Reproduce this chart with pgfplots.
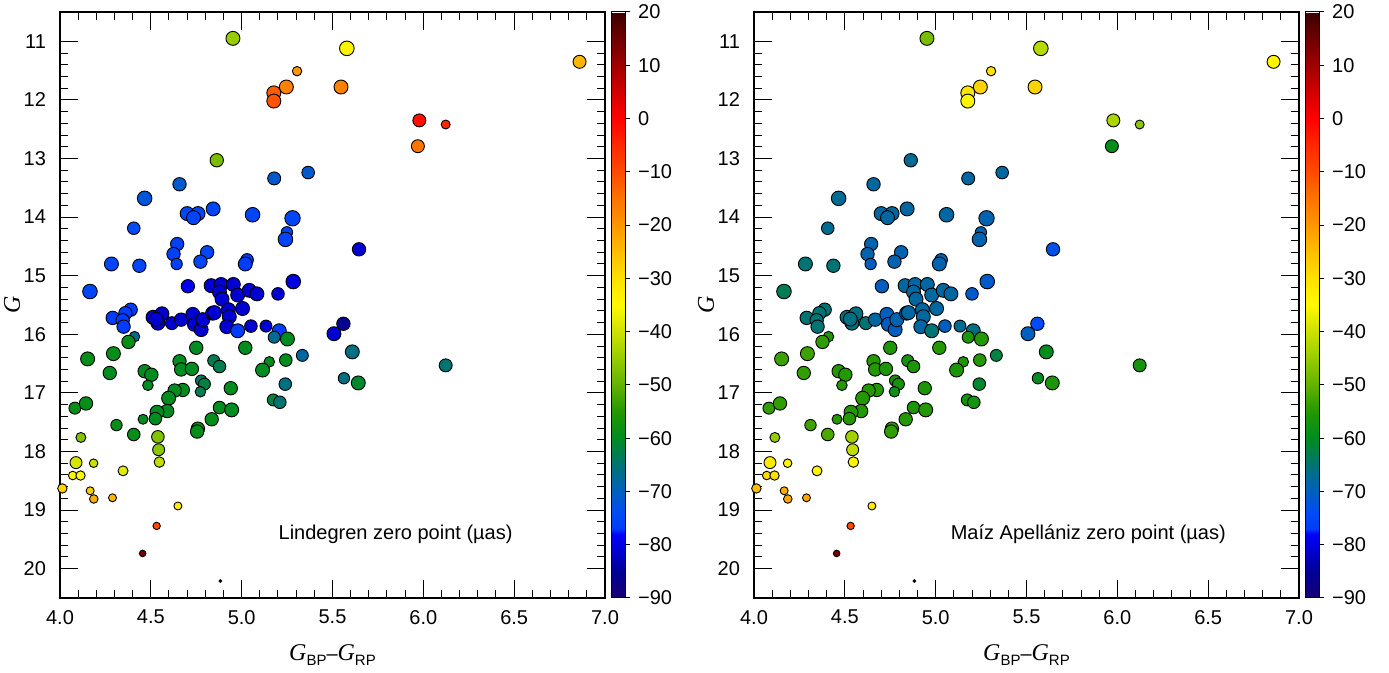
\documentclass[border=0pt]{standalone}
\usepackage{pgfplots}
\pgfplotsset{compat=1.18}
\usepackage{pgfplotstable}
\usepackage{fontspec}
\setmainfont{Liberation Sans}
\newfontfamily\seriffont{Liberation Serif}

\pgfplotstableread{
x y L R s
4.952 10.95 -45 -48 7.0
5.579 11.12 -34 -42 7.3
6.860 11.35 -24 -34 6.5
5.305 11.51 -20 -30 4.7
5.246 11.78 -17 -28 7.0
5.177 11.88 -12 -31 7.0
5.177 12.02 -11 -34 7.0
5.547 11.78 -17 -28 7.0
5.978 12.35 -2 -43 6.5
6.123 12.42 -5 -46 4.5
5.970 12.79 -15 -59 6.5
4.863 13.03 -48 -67 6.7
5.179 13.34 -71 -68 6.5
5.366 13.24 -71 -68 6.3
4.658 13.44 -71 -68 6.7
4.466 13.68 -72 -67 7.3
4.843 13.86 -75 -68 7.0
4.700 13.94 -75 -68 7.0
4.760 13.94 -75 -68 7.0
4.735 14.01 -75 -68 7.0
5.060 13.96 -75 -68 7.3
5.280 14.02 -75 -69 7.7
4.406 14.19 -74 -67 6.3
5.249 14.26 -75 -69 5.7
5.241 14.38 -75 -69 7.3
4.645 14.46 -76 -69 6.7
4.625 14.63 -76 -69 6.7
4.642 14.80 -76 -70 5.7
4.810 14.60 -75 -69 6.7
4.773 14.76 -75 -69 6.7
4.283 14.80 -75 -65 7.0
4.437 14.83 -75 -65 6.7
5.646 14.55 -81 -73 6.7
5.030 14.73 -77 -69 6.3
5.020 14.80 -77 -69 7.0
4.165 15.27 -75 -63 7.3
4.704 15.18 -79 -70 6.7
5.284 15.10 -80 -71 7.3
5.200 15.31 -81 -71 6.3
4.389 15.58 -77 -65 6.7
4.360 15.64 -77 -65 6.7
4.290 15.72 -77 -65 6.7
4.345 15.76 -77 -65 6.7
4.350 15.87 -77 -65 6.7
4.512 15.71 -81 -66 7.0
4.561 15.65 -81 -66 7.0
4.539 15.81 -81 -66 7.0
4.530 15.74 -81 -66 7.0
4.616 15.81 -81 -65 6.5
4.667 15.75 -81 -68 6.7
4.731 15.66 -81 -70 7.0
4.740 15.83 -81 -70 7.0
4.777 15.92 -81 -70 7.0
4.786 15.75 -81 -69 7.0
4.840 15.64 -81 -70 7.0
4.832 15.17 -81 -68 7.0
4.887 15.15 -81 -68 7.0
4.878 15.28 -81 -68 7.0
4.954 15.15 -81 -68 7.0
4.978 15.33 -81 -68 7.0
5.042 15.25 -81 -68 7.0
5.084 15.31 -81 -68 7.0
4.892 15.40 -81 -68 7.0
4.850 15.63 -81 -68 7.0
4.927 15.58 -81 -68 7.0
4.932 15.70 -81 -68 7.0
5.005 15.56 -81 -68 7.0
4.918 15.87 -81 -68 7.0
4.978 15.94 -77 -65 7.0
5.051 15.86 -81 -70 6.3
5.134 15.86 -81 -67 6.0
5.207 15.94 -77 -66 7.0
5.560 15.82 -86 -74 6.7
5.508 15.99 -81 -70 7.0
4.410 16.04 -67 -56 5.3
4.377 16.13 -59 -54 6.7
5.179 16.05 -67 -56 6.0
5.252 16.08 -60 -55 7.0
5.020 16.23 -60 -55 6.7
4.750 16.23 -60 -56 6.7
5.609 16.30 -66 -60 7.0
5.334 16.36 -68 -62 6.0
4.152 16.42 -59 -53 7.0
4.294 16.33 -59 -53 7.0
4.658 16.46 -60 -55 6.7
4.667 16.60 -60 -55 6.7
4.726 16.59 -60 -56 6.7
4.846 16.45 -63 -57 6.0
4.878 16.55 -63 -56 6.3
5.152 16.47 -60 -56 5.3
5.243 16.44 -60 -55 6.3
5.115 16.61 -60 -56 7.0
4.274 16.66 -60 -54 6.7
4.466 16.63 -60 -55 6.7
4.503 16.69 -60 -55 6.7
4.484 16.87 -60 -55 5.3
4.777 16.79 -64 -57 5.7
4.795 16.85 -62 -57 6.0
4.773 16.98 -63 -58 5.3
4.676 16.95 -60 -55 6.7
4.631 16.96 -60 -55 6.7
4.940 16.92 -60 -56 6.7
5.240 16.85 -66 -61 6.3
5.563 16.75 -66 -60 5.7
5.642 16.83 -61 -56 7.0
6.123 16.53 -65 -57 6.5
4.598 17.09 -60 -55 7.0
4.590 17.31 -60 -55 6.7
4.534 17.33 -60 -55 7.0
4.525 17.44 -60 -55 6.3
4.457 17.45 -60 -55 5.0
5.174 17.12 -62 -57 6.0
5.210 17.16 -65 -57 6.3
4.082 17.26 -59 -54 6.0
4.143 17.18 -59 -54 6.7
4.311 17.55 -59 -53 5.7
4.406 17.71 -59 -52 6.3
4.759 17.61 -59 -54 6.7
4.755 17.66 -59 -54 6.7
4.835 17.45 -59 -55 6.7
4.878 17.25 -60 -56 6.3
4.945 17.29 -60 -55 7.0
4.115 17.76 -47 -45 5.0
4.539 17.75 -47 -44 6.3
4.543 17.97 -46 -41 6.0
4.547 18.18 -41 -34 5.3
4.088 18.19 -39 -32 6.0
4.185 18.20 -40 -34 4.3
4.347 18.33 -38 -34 5.0
4.070 18.41 -35 -29 4.3
4.113 18.41 -35 -30 4.7
4.013 18.63 -28 -25 4.7
4.166 18.67 -27 -23 4.0
4.186 18.81 -23 -22 4.3
4.289 18.79 -24 -22 4.0
4.649 18.93 -33 -32 4.0
4.532 19.27 -10 -10 3.7
4.455 19.74 14 14 3.3
4.883 20.21 14 14 1.3
}\stars

\newcommand{\gsub}[1]{{\fontsize{12}{14}\seriffont\itshape G}\raisebox{-0.45ex}{\fontsize{7.5}{9}\selectfont #1}}

\pgfplotsset{
  colormap={zp}{[1pt]
    rgb255(0pt)=(25,0,115) rgb255(5pt)=(0,0,150) rgb255(10pt)=(0,0,225)
    rgb255(12pt)=(0,0,250) rgb255(13pt)=(0,60,250) rgb255(16pt)=(0,75,245)
    rgb255(20pt)=(0,95,190) rgb255(25pt)=(0,115,115) rgb255(30pt)=(0,140,30)
    rgb255(35pt)=(35,152,0) rgb255(40pt)=(100,178,0) rgb255(45pt)=(150,205,0)
    rgb255(50pt)=(205,225,0) rgb255(55pt)=(255,250,0) rgb255(60pt)=(255,225,0)
    rgb255(65pt)=(255,190,0) rgb255(70pt)=(255,150,0) rgb255(75pt)=(255,115,0)
    rgb255(80pt)=(255,75,0) rgb255(85pt)=(255,40,0) rgb255(90pt)=(255,0,0)
    rgb255(95pt)=(210,0,0) rgb255(100pt)=(160,0,0) rgb255(105pt)=(110,0,0)
    rgb255(110pt)=(60,0,0)
  },
  zpaxis/.style={
    scale only axis, width=272.5pt, height=293pt,
    xmin=4, xmax=7, ymin=10.5, ymax=20.5, y dir=reverse,
    xtick={4,4.5,...,7}, minor x tick num=4,
    ytick={11,...,20}, minor y tick num=4,
    tick align=inside, major tick length=9pt, minor tick length=4pt,
    tick style={black, line width=0.5pt},
    axis line style={line width=0.6pt},
    /pgf/number format/assume math mode=true,
    ticklabel style={font=\fontsize{10}{12}\selectfont},
    xticklabel style={yshift=-2.5pt, /pgf/number format/fixed, /pgf/number format/fixed zerofill, /pgf/number format/precision=1},
    yticklabel style={xshift=-3.5pt},
    colormap name=zp, point meta min=-90, point meta max=20,
    colorbar,
    colorbar style={
      at={(parent axis.north east)}, anchor=north west, xshift=-5.5pt,
      scale only axis, width=7pt, height=293pt,
      ytick={-90,-80,...,20},
      yticklabels={−90,−80,−70,−60,−50,−40,−30,−20,−10,0,10,20},
      ytick pos=right, yticklabel pos=right,
      tick align=outside, major tick length=2.5pt,
      tick style={black, line width=0.5pt},
      axis line style={line width=0.5pt},
      yticklabel style={font=\fontsize{10}{12}\selectfont, xshift=0.5pt},
    },
    xlabel={\gsub{BP}–\gsub{RP}},
    ylabel={{\fontsize{12}{14}\seriffont\itshape G}},
    every axis x label/.style={at={(axis description cs:0.5,-0.0973)}, anchor=center},
    every axis y label/.style={at={(axis description cs:-0.0881,0.5)}, anchor=center, rotate=90},
  },
  zpscatter/.style={
    scatter, only marks, mark=*, scatter src=explicit,
    scatter/use mapped color={draw=black, fill=mapped color},
    visualization depends on={0.5*\thisrow{s} \as \msz},
    scatter/@pre marker code/.append style={/tikz/mark size=\msz},
    mark options={line width=0.45pt},
  },
}

\begin{document}
\begin{tikzpicture}
\path[use as bounding box] (0,0) rectangle (694.5pt,336.5pt);
\begin{axis}[zpaxis, at={(30pt,37.5pt)}, anchor=south west]
  \addplot[zpscatter] table[x=x, y=y, meta=L] {\stars};
  \node[anchor=east, font=\fontsize{10}{12}\selectfont] at (axis cs:6.53,19.41) {Lindegren zero point (µas)};
\end{axis}
\begin{axis}[zpaxis, at={(377pt,37.5pt)}, anchor=south west]
  \addplot[zpscatter] table[x=x, y=y, meta=R] {\stars};
  \node[anchor=east, font=\fontsize{10}{12}\selectfont] at (axis cs:6.636,19.41) {Maíz Apellániz zero point (µas)};
\end{axis}
\end{tikzpicture}
\end{document}
